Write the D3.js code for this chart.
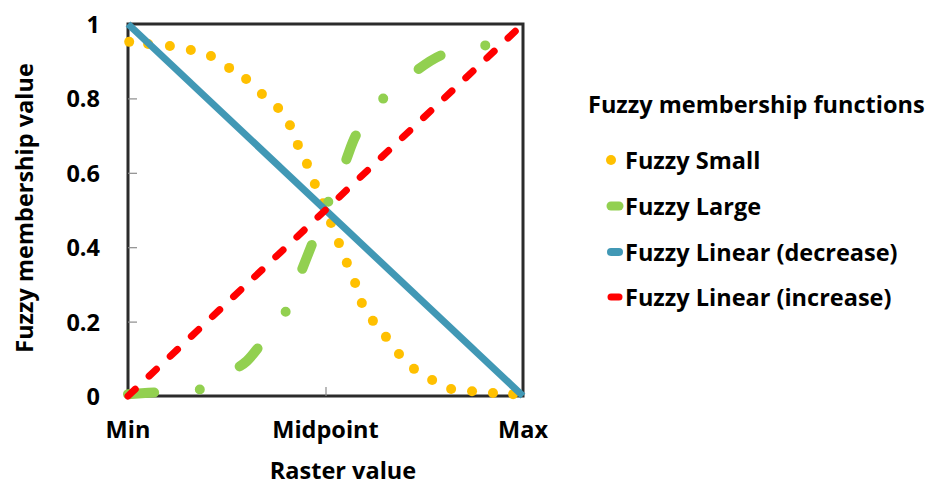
<!DOCTYPE html>
<html>
<head>
<meta charset="utf-8">
<script src="https://cdn.jsdelivr.net/npm/d3@7"></script>
<style>
  html, body { margin: 0; padding: 0; background: #fff; }
  svg text { font-family: "Open Sans", "DejaVu Sans", sans-serif; font-weight: bold; fill: #000; }
</style>
</head>
<body>
<svg id="chart" width="927" height="487"></svg>
<script>
// ---- data ----
const xTickLabels = ["Min", "Midpoint", "Max"];
const xTickValues = [0, 0.5, 1];
const yTickValues = [0, 0.2, 0.4, 0.6, 0.8, 1];
const yTickLabels = ["0", "0.2", "0.4", "0.6", "0.8", "1"];

const seriesNames = ["Fuzzy Small", "Fuzzy Large", "Fuzzy Linear (decrease)", "Fuzzy Linear (increase)"];

// Fuzzy Small (dotted)
const smallX = [0.003, 0.051, 0.106, 0.159, 0.210, 0.256, 0.299, 0.339, 0.380, 0.410, 0.430, 0.453, 0.473, 0.494,
                0.514, 0.534, 0.554, 0.575, 0.592, 0.620, 0.653, 0.686, 0.724, 0.770, 0.818, 0.871, 0.924, 0.975];
const smallY = [0.952, 0.946, 0.941, 0.930, 0.914, 0.882, 0.852, 0.812, 0.774, 0.728, 0.675, 0.624, 0.570, 0.518,
                0.465, 0.411, 0.358, 0.304, 0.250, 0.202, 0.159, 0.113, 0.073, 0.043, 0.019, 0.013, 0.008, 0.005];

// Fuzzy Large (dash-dot)
const largeX = [0.000, 0.086, 0.187, 0.276, 0.301, 0.337, 0.400, 0.438, 0.468, 0.509, 0.549, 0.580, 0.643, 0.722, 0.795, 0.896, 1.000];
const largeY = [0.005, 0.011, 0.019, 0.075, 0.094, 0.140, 0.228, 0.333, 0.414, 0.527, 0.626, 0.707, 0.796, 0.868, 0.917, 0.941, 0.955];

// Linear
const decX = [0, 1], decY = [1, 0];
const incX = [0, 1], incY = [0, 1];

// ---- layout ----
const plot = { left: 128, right: 523, top: 24, bottom: 396 };
const colors = { small: "#FFC000", large: "#92D050", dec: "#4198B5", inc: "#FF0000" };
const fs = 23.5;

const svg = d3.select("#chart");
const x = d3.scaleLinear().domain([0, 1]).range([plot.left, plot.right]);
const y = d3.scaleLinear().domain([0, 1]).range([plot.bottom, plot.top]);

// frame
svg.append("rect")
  .attr("x", plot.left).attr("y", plot.top)
  .attr("width", plot.right - plot.left).attr("height", plot.bottom - plot.top)
  .attr("fill", "none").attr("stroke", "#2b2b2b").attr("stroke-width", 3);

// inner ticks
const yAxis = d3.axisRight(y).tickValues(yTickValues.slice(1, -1)).tickSize(9).tickFormat("");
const gy = svg.append("g").attr("transform", `translate(${plot.left},0)`).call(yAxis);
gy.select(".domain").remove();
gy.selectAll(".tick line").attr("stroke", "#8c8c8c").attr("stroke-width", 1.2);

const xAxis = d3.axisTop(x).tickValues([0.5]).tickSize(9).tickFormat("");
const gx = svg.append("g").attr("transform", `translate(0,${plot.bottom})`).call(xAxis);
gx.select(".domain").remove();
gx.selectAll(".tick line").attr("stroke", "#8c8c8c").attr("stroke-width", 1.2);

// tick labels
svg.append("g").selectAll("text").data(yTickValues).join("text")
  .attr("x", 100).attr("y", d => y(d) + 9)
  .attr("text-anchor", "end").attr("font-size", fs)
  .text((d, i) => yTickLabels[i]);

svg.append("g").selectAll("text").data(xTickValues).join("text")
  .attr("x", d => x(d)).attr("y", 438)
  .attr("text-anchor", "middle").attr("font-size", fs)
  .text((d, i) => xTickLabels[i]);

// axis titles
svg.append("text").attr("x", 343).attr("y", 479)
  .attr("text-anchor", "middle").attr("font-size", fs).text("Raster value");
svg.append("text").attr("transform", "translate(33,208) rotate(-90)")
  .attr("text-anchor", "middle").attr("font-size", fs).text("Fuzzy membership value");

// series
const line = d3.line().x(d => x(d[0])).y(d => y(d[1]));
const smooth = d3.line().x(d => x(d[0])).y(d => y(d[1])).curve(d3.curveCatmullRom.alpha(0.5));

// Fuzzy Small - dots
svg.append("g").selectAll("circle").data(d3.zip(smallX, smallY)).join("circle")
  .attr("cx", d => x(d[0])).attr("cy", d => y(d[1])).attr("r", 5)
  .attr("fill", colors.small);

// Fuzzy Large - dash dot
svg.append("path").datum(d3.zip(largeX, largeY))
  .attr("d", smooth).attr("fill", "none")
  .attr("stroke", colors.large).attr("stroke-width", 10)
  .attr("stroke-linecap", "round").attr("stroke-dasharray", "26,46,0,46");

// Linear decrease
svg.append("path").datum(d3.zip(decX, decY))
  .attr("d", line).attr("fill", "none")
  .attr("stroke", colors.dec).attr("stroke-width", 7);

// Linear increase
svg.append("path").datum(d3.zip(incX, incY))
  .attr("d", line).attr("fill", "none")
  .attr("stroke", colors.inc).attr("stroke-width", 7)
  .attr("stroke-linecap", "round").attr("stroke-dasharray", "10,19");

// legend
const leg = svg.append("g");
leg.append("text").attr("x", 588).attr("y", 113).attr("font-size", fs).text("Fuzzy membership functions");
const legY = [160, 206, 252, 297];
const legColors = [colors.small, colors.large, colors.dec, colors.inc];
const legW = [0, 9, 8, 7];
seriesNames.forEach((name, i) => {
  if (i === 0) {
    leg.append("circle").attr("cx", 611).attr("cy", legY[i]).attr("r", 5).attr("fill", legColors[i]);
  } else {
    leg.append("line").attr("x1", 611).attr("x2", 619).attr("y1", legY[i]).attr("y2", legY[i])
      .attr("stroke", legColors[i]).attr("stroke-width", legW[i]).attr("stroke-linecap", "round");
  }
  leg.append("text").attr("x", 625).attr("y", legY[i] + 8.5).attr("font-size", fs).text(name);
});
</script>
</body>
</html>
